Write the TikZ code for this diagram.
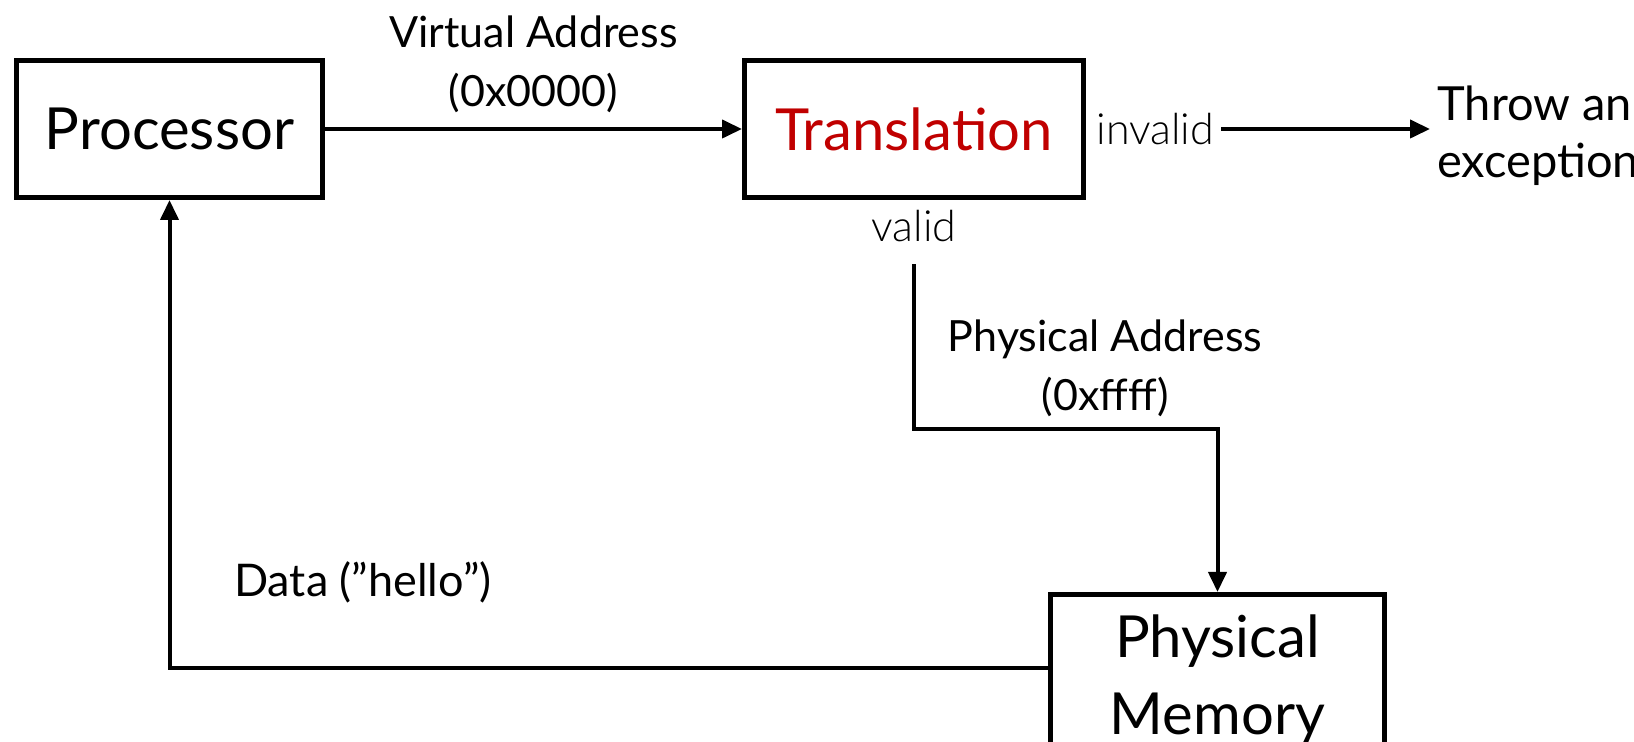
\documentclass[tikz,border=0pt]{standalone}
\usepackage{fontspec}
\setmainfont{Lato}
\newfontfamily\lightfont{Lato Light}
\usetikzlibrary{arrows.meta,positioning}
\definecolor{transred}{RGB}{192,0,0}

\begin{document}
\begin{tikzpicture}[x=0.5pt, y=-0.5pt,
    box/.style={draw, line width=2.5pt, inner sep=0pt, align=center,
        font=\fontsize{29}{38.5}\selectfont},
    conn/.style={line width=2pt, -{Triangle[length=10pt,width=9pt]}},
    lbl/.style={inner sep=0pt, align=center, font=\fontsize{21.5}{29.5}\selectfont},
    cond/.style={inner sep=0pt, font=\lightfont\fontsize{21.5}{29.5}\selectfont}]
    \useasboundingbox (0,0) rectangle (1634,742);

    % --- Blocchi ---
    \node[box, minimum width=153pt, minimum height=68.5pt] (processor) at (169.5,129) {Processor};
    \node[box, minimum width=169.5pt, minimum height=68.5pt, text=transred] (translation) at (914,129) {Translation};
    \node[box, minimum width=167pt, minimum height=85.5pt] (physmem) at (1217.5,680) {Physical\\Memory};

    % --- Esiti della traduzione ---
    \node[cond, right=5pt of translation] (invalid) {invalid};
    \node[cond, below=5pt of translation] (valid) {valid};
    \node[lbl, align=left, anchor=west, font=\fontsize{23.5}{28.5}\selectfont] (exception) at (1437,136) {Throw an\\exception};

    % Coordinate
    \coordinate (bend) at (1217.5,429);  % gomito verso la memoria
    \coordinate (ret) at (169.5,668);    % angolo del ritorno dati

    % --- Frecce ---
    \draw[conn] (processor) -- node[lbl, midway, above=7pt] {Virtual Address\\(0x0000)} (translation);
    \draw[conn, shorten <=3.5pt, shorten >=3.5pt] (invalid.east) -- (exception.west |- invalid.east);
    \draw[conn, shorten <=11pt] (valid.south) -- (valid.south |- bend) -- node[lbl, pos=0.63, above=5pt] {Physical Address\\(0xffff)} (bend) -- (physmem.north);
    \draw[conn] (physmem.west |- ret) -- node[lbl, pos=0.78, above=31.5pt, font=\fontsize{22.5}{29.5}\selectfont] {Data (”hello”)} (ret) -- (processor.south);
\end{tikzpicture}
\end{document}
